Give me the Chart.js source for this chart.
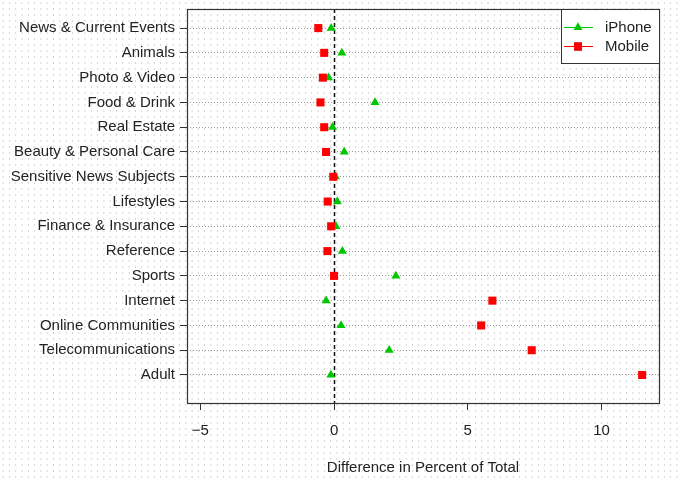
<!DOCTYPE html>
<html>
<head>
<meta charset="utf-8">
<script src="https://cdn.jsdelivr.net/npm/chart.js@4.4.1/dist/chart.umd.min.js"></script>
<style>
  html, body { margin: 0; padding: 0; }
  body {
    width: 678px; height: 480px;
    background-color: #fff;
    background-image: radial-gradient(#d2d2d2 0.6px, transparent 0.9px);
    background-size: 6.3px 6px;
  }
  #wrap { position: relative; width: 678px; height: 480px; }
</style>
</head>
<body>
<div id="wrap"><canvas id="chart" width="678" height="480"></canvas></div>
<script>
const categories = [
  "News & Current Events", "Animals", "Photo & Video", "Food & Drink", "Real Estate",
  "Beauty & Personal Care", "Sensitive News Subjects", "Lifestyles", "Finance & Insurance",
  "Reference", "Sports", "Internet", "Online Communities", "Telecommunications", "Adult"
];
const iphoneValues = [-0.11, 0.29, -0.21, 1.53, -0.06, 0.38, 0.05, 0.12, 0.07, 0.31, 2.31, -0.30, 0.26, 2.06, -0.12];
const mobileValues = [-0.59, -0.37, -0.42, -0.51, -0.37, -0.30, -0.03, -0.24, -0.11, -0.25, 0.0, 5.92, 5.50, 7.39, 11.52];
const xTickValues = [-5, 0, 5, 10];

const FONT = "'Liberation Sans', Arial, sans-serif";
const INK = "#222";
const FONT_SIZE = 15;

function toPoints(values) {
  return values.map((v, i) => ({ x: v, y: i }));
}

// dashed zero line + plot frame
const framePlugin = {
  id: "frame",
  beforeDatasetsDraw(chart) {
    const { ctx, chartArea, scales } = chart;
    const x0 = scales.x.getPixelForValue(0);
    ctx.save();
    ctx.strokeStyle = "#111";
    ctx.lineWidth = 1.5;
    ctx.setLineDash([4, 3]);
    ctx.beginPath();
    ctx.moveTo(Math.round(x0) + 0.5, chartArea.top);
    ctx.lineTo(Math.round(x0) + 0.5, chartArea.bottom);
    ctx.stroke();
    ctx.restore();
  },
  afterDraw(chart) {
    const { ctx, chartArea } = chart;
    ctx.save();
    ctx.strokeStyle = "#333";
    ctx.lineWidth = 1.2;
    ctx.strokeRect(chartArea.left + 0.5, chartArea.top + 0.5,
      chartArea.right - chartArea.left, chartArea.bottom - chartArea.top);
    ctx.restore();
  }
};

// R-style legend box in the top right corner
const boxLegend = {
  id: "boxLegend",
  afterDraw(chart) {
    const { ctx, chartArea } = chart;
    const w = 98, h = 54;
    const left = chartArea.right - w, top = chartArea.top;
    ctx.save();
    ctx.fillStyle = "#fff";
    ctx.fillRect(left, top, w, h);
    ctx.strokeStyle = "#333";
    ctx.lineWidth = 1;
    ctx.strokeRect(left + 0.5, top + 0.5, w, h);
    chart.data.datasets.forEach((ds, i) => {
      const y = top + 18 + i * 19;
      ctx.strokeStyle = ds.borderColor;
      ctx.lineWidth = 1;
      ctx.beginPath();
      ctx.moveTo(left + 3, y + 0.5);
      ctx.lineTo(left + 32, y + 0.5);
      ctx.stroke();
      Chart.helpers.drawPoint(ctx, {
        pointStyle: ds.pointStyle, radius: ds.pointRadius, borderWidth: 0
      }, left + 17, y + 0.5);
      ctx.fillStyle = ds.backgroundColor;
      ctx.fill();
      ctx.fillStyle = INK;
      ctx.font = FONT_SIZE + "px " + FONT;
      ctx.textBaseline = "middle";
      ctx.fillText(ds.label, left + 44, y + 1);
    });
    ctx.restore();
  }
};

new Chart(document.getElementById("chart"), {
  type: "scatter",
  data: {
    datasets: [
      {
        label: "iPhone",
        data: toPoints(iphoneValues),
        pointStyle: "triangle",
        pointRadius: 5.2,
        pointHoverRadius: 5.2,
        backgroundColor: "#00C800",
        borderColor: "#00C800",
        borderWidth: 0,
        order: 2
      },
      {
        label: "Mobile",
        data: toPoints(mobileValues),
        pointStyle: "rect",
        pointRadius: 5.7,
        pointHoverRadius: 5.7,
        backgroundColor: "#FF0000",
        borderColor: "#FF0000",
        borderWidth: 0,
        order: 1
      }
    ]
  },
  options: {
    responsive: false,
    animation: false,
    layout: { padding: { left: 0, right: 19, top: 9, bottom: 0 } },
    plugins: {
      legend: { display: false },
      tooltip: { enabled: false }
    },
    scales: {
      x: {
        type: "linear",
        min: -5.5,
        max: 12.15,
        afterBuildTicks: (scale) => { scale.ticks = xTickValues.map((v) => ({ value: v })); },
        afterFit: (scale) => { scale.height = 77; },
        border: { display: false },
        grid: { drawOnChartArea: false, tickLength: 7, color: "#333", tickColor: "#333" },
        ticks: {
          padding: 12,
          color: INK,
          font: { family: FONT, size: FONT_SIZE },
          callback: (v) => (v < 0 ? "\u2212" + Math.abs(v) : String(v))
        },
        title: {
          display: true,
          text: "Difference in Percent of Total",
          color: INK,
          font: { family: FONT, size: FONT_SIZE },
          padding: { top: 0, bottom: 3 }
        }
      },
      y: {
        type: "linear",
        reverse: true,
        min: -0.77,
        max: 15.13,
        afterBuildTicks: (scale) => { scale.ticks = categories.map((c, i) => ({ value: i })); },
        afterFit: (scale) => {
          scale.width = 187;
          // labels sit well inside the range, no overhang needed
          scale.paddingTop = 0;
          scale.paddingBottom = 0;
        },
        border: { display: false, dash: [1, 2] },
        grid: {
          color: "#9a9a9a",
          tickColor: "#333",
          tickBorderDash: [],
          tickLength: 7,
          lineWidth: 1
        },
        ticks: {
          padding: 5,
          color: INK,
          font: { family: FONT, size: FONT_SIZE },
          callback: (v) => categories[v]
        }
      }
    }
  },
  plugins: [framePlugin, boxLegend]
});
</script>
</body>
</html>
